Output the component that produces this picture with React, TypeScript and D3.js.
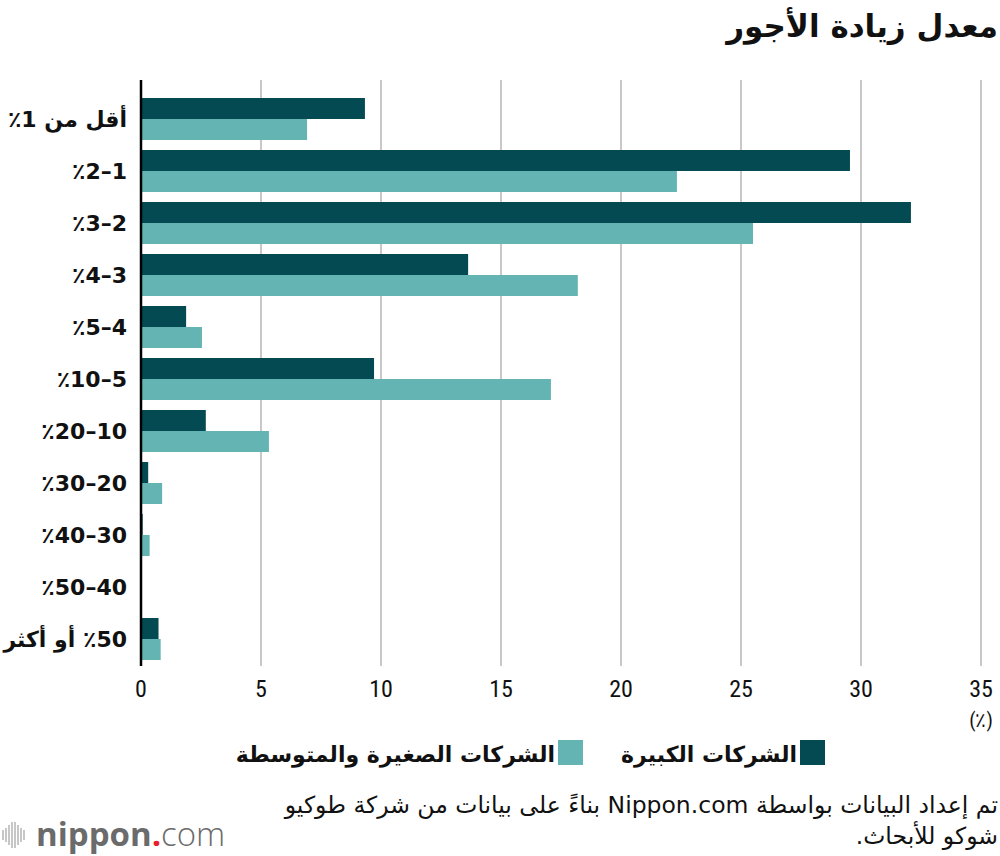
import React from "react";
import * as d3 from "d3";

const RLM = "\u200F";
const categories = [
  "أقل من 1" + RLM + "٪",
  "1–2" + RLM + "٪",
  "2–3" + RLM + "٪",
  "3–4" + RLM + "٪",
  "4–5" + RLM + "٪",
  "5–10" + RLM + "٪",
  "10–20" + RLM + "٪",
  "20–30" + RLM + "٪",
  "30–40" + RLM + "٪",
  "40–50" + RLM + "٪",
  "50" + RLM + "٪ أو أكثر",
];
const largeFirms = [9.33, 29.54, 32.08, 13.63, 1.88, 9.71, 2.7, 0.3, 0.07, 0, 0.73];
const smeFirms = [6.92, 22.33, 25.5, 18.2, 2.54, 17.08, 5.33, 0.88, 0.36, 0, 0.82];
const xTicks = [0, 5, 10, 15, 20, 25, 30, 35];
const seriesNames = ["الشركات الكبيرة", "الشركات الصغيرة والمتوسطة"];
const title = "معدل زيادة الأجور";
const sourceLines = [
  "تم إعداد البيانات بواسطة Nippon.com بناءً على بيانات من شركة طوكيو",
  "شوكو للأبحاث.",
];
const logoBars = [10, 14, 20, 26, 26, 20, 14, 10];

const DARK = "#044a52";
const LIGHT = "#65b4b4";
const AR = "'DejaVu Sans', 'Noto Sans', sans-serif";
const NUM = "'Liberation Sans Narrow', 'Roboto Condensed', 'Arial Narrow', 'Liberation Sans', sans-serif";

export default function App() {
  const W = 1000;
  const H = 856;
  const x = d3.scaleLinear().domain([0, 35]).range([141, 981]);
  const step = 52;
  const pi = 10 / 52;
  const po = 0.4;
  const y0 = 98 - po * step;
  const y = d3
    .scaleBand<string>()
    .domain(categories)
    .range([y0, y0 + step * (categories.length - pi + 2 * po)])
    .paddingInner(pi)
    .paddingOuter(po);
  const bw = y.bandwidth() / 2;
  const gridTop = 80;
  const gridBottom = 666;

  return (
    <svg
      width={W}
      height={H}
      viewBox={`0 0 ${W} ${H}`}
      style={{ position: "absolute", left: 0, top: 0, background: "#fff" }}
    >
      <rect x={0} y={0} width={W} height={H} fill="#fff" />
      <text
        x={998}
        y={37}
        direction="rtl"
        textAnchor="start"
        fontFamily={AR}
        fontWeight="bold"
        fontSize={31}
        fill="#111"
      >
        {title}
      </text>

      {xTicks.slice(1).map((t) => (
        <line
          key={"g" + t}
          x1={x(t)}
          x2={x(t)}
          y1={gridTop}
          y2={gridBottom}
          stroke="#c8c8c8"
          strokeWidth={2}
        />
      ))}

      {categories.map((c, i) => (
        <g key={c}>
          {largeFirms[i] > 0 && (
            <rect
              x={x(0)}
              y={y(c)!}
              width={x(largeFirms[i]) - x(0)}
              height={bw}
              fill={DARK}
            />
          )}
          {smeFirms[i] > 0 && (
            <rect
              x={x(0)}
              y={y(c)! + bw}
              width={x(smeFirms[i]) - x(0)}
              height={bw}
              fill={LIGHT}
            />
          )}
          <text
            x={127}
            y={y(c)! + y.bandwidth() / 2 + 8}
            direction="rtl"
            textAnchor="start"
            fontFamily={AR}
            fontWeight="bold"
            fontSize={22}
            fill="#111"
          >
            {c}
          </text>
        </g>
      ))}

      <line x1={x(0)} x2={x(0)} y1={gridTop} y2={gridBottom} stroke="#000" strokeWidth={2.5} />

      {xTicks.map((t) => (
        <text
          key={"t" + t}
          x={x(t)}
          y={697}
          textAnchor="middle"
          fontFamily={NUM}
          fontSize={24}
          fill="#111"
        >
          {t}
        </text>
      ))}
      <text x={981} y={727} textAnchor="middle" fontFamily={NUM} fontSize={20} fill="#111">
        (٪)
      </text>

      {/* legend */}
      <rect x={800} y={740} width={25} height={25} fill={DARK} />
      <text
        x={797}
        y={762}
        direction="rtl"
        textAnchor="start"
        fontFamily={AR}
        fontWeight="bold"
        fontSize={22}
        fill="#111"
      >
        {seriesNames[0]}
      </text>
      <rect x={558} y={740} width={25} height={25} fill={LIGHT} />
      <text
        x={555}
        y={762}
        direction="rtl"
        textAnchor="start"
        fontFamily={AR}
        fontWeight="bold"
        fontSize={22}
        fill="#111"
      >
        {seriesNames[1]}
      </text>

      {sourceLines.map((l, i) => (
        <text
          key={"s" + i}
          x={998}
          y={813 + i * 31}
          direction="rtl"
          textAnchor="start"
          fontFamily={AR}
          fontSize={23.5}
          fill="#111"
        >
          {l}
        </text>
      ))}

      {/* logo */}
      <g>
        {logoBars.map((h, i) => (
          <line
            key={"lb" + i}
            x1={3 + i * 3}
            x2={3 + i * 3}
            y1={835 - h / 2}
            y2={835 + h / 2}
            stroke="#b5b5b5"
            strokeWidth={1.5}
          />
        ))}
        <text x={36} y={846} fontFamily="'Open Sans', 'Noto Sans', sans-serif" fontSize={33} fill="#6b6b6b">
          <tspan fontWeight="bold">nippon</tspan>
          <tspan fill="#e8202a" fontWeight="bold">.</tspan>
          <tspan fontWeight="300">com</tspan>
        </text>
      </g>
    </svg>
  );
}
